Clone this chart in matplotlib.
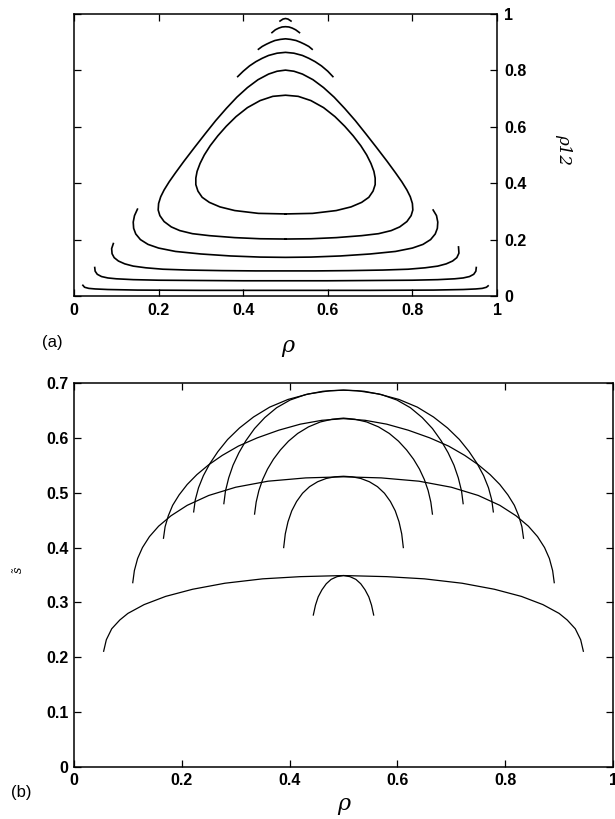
import matplotlib
matplotlib.use("Agg")
import matplotlib.pyplot as plt
from matplotlib.ticker import FormatStrFormatter, FuncFormatter

# ---- panel (a): contour curves in the (rho, rho12) plane ----
cap1_rho = [0.487, 0.494, 0.5, 0.506, 0.513]
cap1_p12 = [0.975, 0.982, 0.984, 0.982, 0.975]

cap2_rho = [0.468, 0.476, 0.484, 0.492, 0.5, 0.508, 0.516, 0.524, 0.533]
cap2_p12 = [0.934, 0.944, 0.950, 0.954, 0.955, 0.954, 0.950, 0.944, 0.934]

cap3_rho = [0.436, 0.445, 0.455, 0.465, 0.475, 0.488, 0.5, 0.512, 0.525, 0.535, 0.545, 0.555, 0.563]
cap3_p12 = [0.875, 0.885, 0.893, 0.900, 0.906, 0.910, 0.912, 0.910, 0.906, 0.900, 0.893, 0.885, 0.875]

cap4_rho = [0.387, 0.40, 0.415, 0.43, 0.445, 0.46, 0.48, 0.5, 0.52, 0.54, 0.555, 0.57, 0.585, 0.60, 0.612]
cap4_p12 = [0.778, 0.797, 0.816, 0.831, 0.843, 0.853, 0.861, 0.864, 0.861, 0.853, 0.843, 0.831, 0.816, 0.797, 0.778]

outer_rho = [0.5, 0.44, 0.38, 0.32, 0.28, 0.25, 0.23, 0.213, 0.203, 0.199, 0.200, 0.205, 0.213,
             0.225, 0.24, 0.26, 0.285, 0.31, 0.335, 0.36, 0.385, 0.41, 0.435, 0.46, 0.48, 0.5,
             0.52, 0.54, 0.565, 0.59, 0.615, 0.64, 0.665, 0.69, 0.715, 0.74, 0.76, 0.775, 0.787,
             0.795, 0.800, 0.801, 0.797, 0.787, 0.770, 0.75, 0.72, 0.68, 0.62, 0.56, 0.5]
outer_p12 = [0.202, 0.203, 0.207, 0.214, 0.221, 0.232, 0.245, 0.264, 0.285, 0.305, 0.328, 0.352, 0.376,
             0.405, 0.437, 0.478, 0.527, 0.575, 0.622, 0.665, 0.705, 0.739, 0.767, 0.787, 0.797, 0.801,
             0.797, 0.787, 0.767, 0.739, 0.705, 0.665, 0.622, 0.575, 0.527, 0.478, 0.437, 0.405, 0.376,
             0.352, 0.328, 0.305, 0.285, 0.264, 0.245, 0.232, 0.221, 0.214, 0.207, 0.203, 0.202]

inner_rho = [0.5, 0.436, 0.38, 0.345, 0.32, 0.303, 0.293, 0.288, 0.288, 0.291, 0.298, 0.308, 0.322,
             0.34, 0.36, 0.383, 0.41, 0.44, 0.47, 0.5,
             0.53, 0.56, 0.59, 0.617, 0.64, 0.66, 0.678, 0.692, 0.702, 0.709, 0.712, 0.712, 0.707,
             0.697, 0.68, 0.655, 0.62, 0.564, 0.5]
inner_p12 = [0.291, 0.293, 0.303, 0.316, 0.332, 0.350, 0.372, 0.395, 0.418, 0.442, 0.470, 0.500, 0.533,
             0.568, 0.602, 0.636, 0.668, 0.693, 0.708, 0.712,
             0.708, 0.693, 0.668, 0.636, 0.602, 0.568, 0.533, 0.500, 0.470, 0.442, 0.418, 0.395, 0.372,
             0.350, 0.332, 0.316, 0.303, 0.293, 0.291]

cup1_rho = [0.150, 0.143, 0.140, 0.141, 0.146, 0.157, 0.175, 0.20, 0.24, 0.30, 0.37, 0.44, 0.5,
            0.56, 0.63, 0.70, 0.76, 0.80, 0.825, 0.843, 0.854, 0.859, 0.860, 0.857, 0.849]
cup1_p12 = [0.308, 0.285, 0.262, 0.240, 0.220, 0.200, 0.183, 0.170, 0.158, 0.149, 0.142, 0.138, 0.137,
            0.138, 0.142, 0.149, 0.158, 0.170, 0.183, 0.200, 0.220, 0.240, 0.262, 0.285, 0.305]

cup2_rho = [0.093, 0.089, 0.090, 0.095, 0.105, 0.12, 0.14, 0.17, 0.21, 0.27, 0.35, 0.43, 0.5,
            0.57, 0.65, 0.73, 0.79, 0.83, 0.86, 0.88, 0.895, 0.905, 0.910, 0.909]
cup2_p12 = [0.186, 0.168, 0.150, 0.136, 0.124, 0.114, 0.106, 0.100, 0.095, 0.092, 0.090, 0.089, 0.089,
            0.089, 0.090, 0.092, 0.095, 0.100, 0.106, 0.114, 0.124, 0.136, 0.152, 0.174]

cup3_rho = [0.049, 0.050, 0.055, 0.065, 0.08, 0.10, 0.14, 0.20, 0.30, 0.40, 0.5,
            0.6, 0.7, 0.8, 0.86, 0.90, 0.92, 0.935, 0.945, 0.950, 0.951]
cup3_p12 = [0.101, 0.088, 0.077, 0.069, 0.064, 0.061, 0.058, 0.056, 0.055, 0.054, 0.054,
            0.054, 0.055, 0.056, 0.058, 0.061, 0.064, 0.069, 0.077, 0.088, 0.101]

cup4_rho = [0.021, 0.025, 0.035, 0.05, 0.08, 0.15, 0.3, 0.5, 0.7, 0.85, 0.92, 0.95, 0.965, 0.975, 0.979]
cup4_p12 = [0.038, 0.031, 0.027, 0.025, 0.023, 0.021, 0.020, 0.020, 0.020, 0.021, 0.023, 0.025, 0.027, 0.031, 0.036]

# ---- panel (b): s~ versus rho ----
arcA_rho = [0.055, 0.06, 0.07, 0.085, 0.10, 0.13, 0.17, 0.22, 0.28, 0.35, 0.42, 0.5,
            0.58, 0.65, 0.72, 0.78, 0.83, 0.87, 0.90, 0.915, 0.93, 0.94, 0.945]
arcA_s = [0.211, 0.232, 0.252, 0.268, 0.280, 0.296, 0.311, 0.324, 0.335, 0.343, 0.347, 0.349,
          0.347, 0.343, 0.335, 0.324, 0.311, 0.296, 0.280, 0.268, 0.252, 0.232, 0.211]

arcB_rho = [0.444, 0.448, 0.453, 0.46, 0.468, 0.477, 0.488, 0.5, 0.512, 0.523, 0.532, 0.54, 0.547, 0.552, 0.556]
arcB_s = [0.277, 0.295, 0.310, 0.323, 0.334, 0.342, 0.347, 0.349, 0.347, 0.342, 0.334, 0.323, 0.310, 0.295, 0.277]

arcC_rho = [0.109, 0.112, 0.118, 0.127, 0.14, 0.157, 0.18, 0.21, 0.25, 0.30, 0.36, 0.43, 0.5,
            0.57, 0.64, 0.70, 0.75, 0.79, 0.82, 0.843, 0.86, 0.873, 0.882, 0.888, 0.891]
arcC_s = [0.336, 0.358, 0.380, 0.400, 0.420, 0.439, 0.458, 0.477, 0.495, 0.510, 0.521, 0.527, 0.529,
          0.527, 0.521, 0.510, 0.495, 0.477, 0.458, 0.439, 0.420, 0.400, 0.380, 0.358, 0.336]

arcD_rho = [0.389, 0.392, 0.397, 0.404, 0.413, 0.424, 0.437, 0.452, 0.468, 0.484, 0.5,
            0.516, 0.532, 0.548, 0.563, 0.576, 0.587, 0.596, 0.603, 0.608, 0.611]
arcD_s = [0.400, 0.425, 0.447, 0.467, 0.484, 0.499, 0.511, 0.520, 0.526, 0.529, 0.530,
          0.529, 0.526, 0.520, 0.511, 0.499, 0.484, 0.467, 0.447, 0.425, 0.400]

arcE_rho = [0.166, 0.169, 0.175, 0.183, 0.195, 0.21, 0.228, 0.25, 0.275, 0.305, 0.34, 0.38, 0.42, 0.46, 0.5,
            0.54, 0.58, 0.62, 0.66, 0.695, 0.725, 0.75, 0.772, 0.79, 0.805, 0.817, 0.825, 0.831, 0.834]
arcE_s = [0.417, 0.438, 0.458, 0.477, 0.496, 0.515, 0.533, 0.551, 0.568, 0.585, 0.600, 0.614, 0.625, 0.632, 0.635,
          0.632, 0.625, 0.614, 0.600, 0.585, 0.568, 0.551, 0.533, 0.515, 0.496, 0.477, 0.458, 0.438, 0.417]

arcF_rho = [0.335, 0.338, 0.343, 0.35, 0.359, 0.37, 0.383, 0.398, 0.415, 0.435, 0.457, 0.479, 0.5,
            0.521, 0.543, 0.565, 0.585, 0.602, 0.617, 0.63, 0.641, 0.65, 0.657, 0.662, 0.665]
arcF_s = [0.461, 0.483, 0.504, 0.524, 0.543, 0.561, 0.578, 0.594, 0.608, 0.620, 0.629, 0.634, 0.636,
          0.634, 0.629, 0.620, 0.608, 0.594, 0.578, 0.561, 0.543, 0.524, 0.504, 0.483, 0.461]

arcG_rho = [0.222, 0.225, 0.231, 0.24, 0.252, 0.267, 0.285, 0.307, 0.333, 0.363, 0.397, 0.435, 0.475, 0.5,
            0.525, 0.565, 0.603, 0.637, 0.667, 0.693, 0.715, 0.733, 0.748, 0.76, 0.769, 0.775, 0.778]
arcG_s = [0.465, 0.487, 0.509, 0.531, 0.553, 0.575, 0.597, 0.618, 0.638, 0.656, 0.670, 0.680, 0.686, 0.687,
          0.686, 0.680, 0.670, 0.656, 0.638, 0.618, 0.597, 0.575, 0.553, 0.531, 0.509, 0.487, 0.465]

arcH_rho = [0.278, 0.281, 0.287, 0.295, 0.306, 0.319, 0.335, 0.354, 0.376, 0.401, 0.43, 0.462, 0.5,
            0.538, 0.57, 0.599, 0.624, 0.646, 0.665, 0.681, 0.694, 0.705, 0.713, 0.719, 0.722]
arcH_s = [0.480, 0.503, 0.527, 0.550, 0.573, 0.595, 0.617, 0.637, 0.655, 0.669, 0.679, 0.685, 0.687,
          0.685, 0.679, 0.669, 0.655, 0.637, 0.617, 0.595, 0.573, 0.550, 0.527, 0.503, 0.480]

top_curves = [(cap1_rho, cap1_p12), (cap2_rho, cap2_p12), (cap3_rho, cap3_p12), (cap4_rho, cap4_p12),
              (outer_rho, outer_p12), (inner_rho, inner_p12), (cup1_rho, cup1_p12),
              (cup2_rho, cup2_p12), (cup3_rho, cup3_p12), (cup4_rho, cup4_p12)]
bottom_curves = [(arcA_rho, arcA_s), (arcB_rho, arcB_s), (arcC_rho, arcC_s), (arcD_rho, arcD_s),
                 (arcE_rho, arcE_s), (arcF_rho, arcF_s), (arcG_rho, arcG_s), (arcH_rho, arcH_s)]

plt.rcParams['font.family'] = ['Liberation Sans', 'DejaVu Sans']

W, H = 615, 819
fig = plt.figure(figsize=(W / 100, H / 100), dpi=100)
ax1 = fig.add_axes([74 / W, 1 - 296 / H, 423 / W, 282 / H])
ax2 = fig.add_axes([74 / W, 1 - 767 / H, 539 / W, 384 / H])

for x, y in top_curves:
    ax1.plot(x, y, color='black', lw=1.2)
for x, y in bottom_curves:
    ax2.plot(x, y, color='black', lw=0.9)

fmt = FuncFormatter(lambda v, pos: '%g' % round(v, 2))

ax1.set_xlim(0, 1)
ax1.set_ylim(0, 1)
ax1.set_xticks([0, 0.2, 0.4, 0.6, 0.8, 1])
ax1.set_yticks([0, 0.2, 0.4, 0.6, 0.8, 1])
ax1.xaxis.set_major_formatter(fmt)
ax1.yaxis.set_major_formatter(fmt)
ax1.tick_params(direction='in', top=True, right=True, left=True, bottom=True,
                labelleft=False, labelright=True, length=5, width=0.9, pad=5)

ax2.set_xlim(0, 1)
ax2.set_ylim(0, 0.7)
ax2.set_xticks([0, 0.2, 0.4, 0.6, 0.8, 1])
ax2.set_yticks([0, 0.1, 0.2, 0.3, 0.4, 0.5, 0.6, 0.7])
ax2.xaxis.set_major_formatter(fmt)
ax2.yaxis.set_major_formatter(fmt)
ax2.tick_params(direction='in', top=True, right=True, length=5, width=0.9, pad=4)

for ax in (ax1, ax2):
    for sp in ax.spines.values():
        sp.set_linewidth(1.1)
    for lab in ax.get_xticklabels() + ax.get_yticklabels():
        lab.set_fontweight('bold')
        lab.set_fontsize(11.5)

# axis labels and panel tags
fig.text(288 / W, 1 - 346 / H, 'ρ', fontsize=16, style='italic', family='DejaVu Serif',
         ha='center', va='center')
fig.text(344 / W, 1 - 804 / H, 'ρ', fontsize=16, style='italic', family='DejaVu Serif',
         ha='center', va='center')
fig.text(564 / W, 1 - 150 / H, 'ρ12', fontsize=12, style='italic', family='DejaVu Serif',
         rotation=270, ha='center', va='center')
fig.text(18 / W, 1 - 570 / H, 's\u0303', fontsize=9, style='italic', family='DejaVu Serif',
         rotation=90, ha='center', va='center')
fig.text(52 / W, 1 - 342 / H, '(a)', fontsize=12, ha='center', va='center')
fig.text(21 / W, 1 - 792 / H, '(b)', fontsize=12, ha='center', va='center')

fig.savefig('out.png', dpi=100)
